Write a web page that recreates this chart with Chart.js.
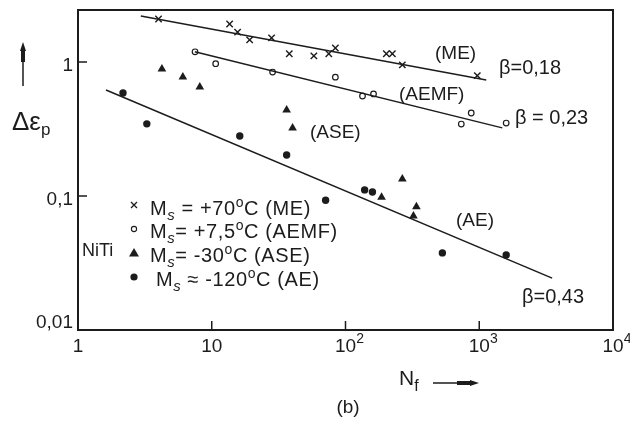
<!DOCTYPE html>
<html>
<head>
<meta charset="utf-8">
<script src="https://cdn.jsdelivr.net/npm/chart.js@4.4.1/dist/chart.umd.min.js"></script>
<style>
  html, body { margin: 0; padding: 0; background: #fff; }
  #wrap { width: 630px; height: 426px; position: relative; }
</style>
</head>
<body>
<div id="wrap"><canvas id="fatigue"></canvas></div>
<script>
// cycles to failure N_f and plastic strain amplitude (%) per alloy
const meN = [4.0, 13.6, 15.6, 19.2, 28, 38, 58, 75, 84, 202, 224, 266, 967]
const meEps = [2.09, 1.92, 1.67, 1.46, 1.51, 1.15, 1.11, 1.15, 1.27, 1.15, 1.15, 0.95, 0.79]

const aemfN = [7.5, 10.7, 28.5, 84, 134, 162, 734, 871, 1590]
const aemfEps = [1.19, 0.97, 0.84, 0.77, 0.557, 0.577, 0.344, 0.416, 0.35]

const aseN = [4.24, 6.08, 8.14, 36.3, 40.2, 186, 266, 322, 339]
const aseEps = [0.887, 0.773, 0.651, 0.438, 0.322, 0.098, 0.134, 0.071, 0.083]

const aeN = [2.17, 3.27, 16.2, 36.3, 71, 139, 159, 530, 1590]
const aeEps = [0.587, 0.345, 0.28, 0.202, 0.093, 0.111, 0.107, 0.0376, 0.0363]

// Coffin-Manson fits (end points)
const meFitN = [2.95, 1128]
const meFitEps = [2.2, 0.734]
const aemfFitN = [7.47, 1486]
const aemfFitEps = [1.19, 0.322]
const aeFitN = [1.62, 3508]
const aeFitEps = [0.618, 0.0244]

const betas = ['0,18', '0,23', '0,43']

const xTicks = [1, 10, 100, 1000, 10000]
const xTickLabels = [['1', ''], ['10', ''], ['10', '2'], ['10', '3'], ['10', '4']]
const yTicks = [1, 0.1, 0.01]
const yTickLabels = ['1', '0,1', '0,01']

const legendTemps = ['+70', '+7,5', '-30', '-120']
const legendTags = ['(ME)', '(AEMF)', '(ASE)', '(AE)']
const legendRel = [' = ', '= ', '= ', ' \u2248 ']


const FONT = '"Liberation Sans", Arial, sans-serif'
const INK = '#1c1c1c'

const pts = (xs, ys) => xs.map((x, i) => ({ x: x, y: ys[i] }))

function fontOf(size, italic) {
    return `${italic ? 'italic ' : ''}${size}px ${FONT}`
}

// text made of runs: [text, size, dy, italic]
function rich(ctx, x, y, parts, align) {
    let w = 0
    parts.forEach(p => {
        ctx.font = fontOf(p[1], p[3])
        w += ctx.measureText(p[0]).width
    })
    let cx = align === 'center' ? x - w / 2 : align === 'right' ? x - w : x
    ctx.textAlign = 'left'
    ctx.textBaseline = 'alphabetic'
    parts.forEach(p => {
        ctx.font = fontOf(p[1], p[3])
        ctx.fillText(p[0], cx, y + (p[2] || 0))
        cx += ctx.measureText(p[0]).width
    })
}

function marker(ctx, kind, x, y) {
    ctx.beginPath()
    if (kind === 'cross') {
        ctx.lineWidth = 1.3
        ctx.moveTo(x - 3, y - 3); ctx.lineTo(x + 3, y + 3)
        ctx.moveTo(x + 3, y - 3); ctx.lineTo(x - 3, y + 3)
        ctx.stroke()
    } else if (kind === 'ring') {
        ctx.lineWidth = 1.1
        ctx.arc(x, y, 2.6, 0, Math.PI * 2)
        ctx.stroke()
    } else if (kind === 'tri') {
        ctx.moveTo(x, y - 5); ctx.lineTo(x + 5, y + 3.5); ctx.lineTo(x - 5, y + 3.5)
        ctx.closePath()
        ctx.fill()
    } else {
        ctx.arc(x, y, 3.6, 0, Math.PI * 2)
        ctx.fill()
    }
}

const decorations = {
    id: 'decorations',
    afterDraw(chart) {
        const ctx = chart.ctx
        const a = chart.chartArea
        const sx = chart.scales.x
        const sy = chart.scales.y
        ctx.save()
        ctx.strokeStyle = INK
        ctx.fillStyle = INK

        // frame
        ctx.lineWidth = 2
        ctx.strokeRect(a.left, a.top, a.right - a.left, a.bottom - a.top)

        // inward ticks
        ctx.lineWidth = 1.5
        ctx.beginPath()
        xTicks.forEach(v => {
            const px = sx.getPixelForValue(v)
            ctx.moveTo(px, a.bottom); ctx.lineTo(px, a.bottom - 9)
        })
        yTicks.forEach(v => {
            const py = sy.getPixelForValue(v)
            ctx.moveTo(a.left, py); ctx.lineTo(a.left + 9, py)
        })
        ctx.stroke()

        // tick labels
        xTicks.forEach((v, i) => {
            const px = sx.getPixelForValue(v)
            const lab = xTickLabels[i]
            if (lab[1]) rich(ctx, px + 4, a.bottom + 22, [[lab[0], 19], [lab[1], 14, -9]], 'center')
            else rich(ctx, px, a.bottom + 22, [[lab[0], 19]], 'center')
        })
        yTicks.forEach((v, i) => {
            const py = sy.getPixelForValue(v)
            rich(ctx, a.left - 5, Math.min(py + 9, a.bottom - 2), [[yTickLabels[i], 19]], 'right')
        })

        // axis titles with arrows
        rich(ctx, 12, 130, [['\u0394\u03b5', 26], ['p', 17, 5]], 'left')
        ctx.lineWidth = 1.5
        ctx.beginPath()
        ctx.moveTo(23, 86); ctx.lineTo(23, 48)
        ctx.stroke()
        ctx.fillRect(21, 49, 4, 13)
        ctx.beginPath()
        ctx.moveTo(23, 42); ctx.lineTo(26, 51); ctx.lineTo(20, 51)
        ctx.closePath(); ctx.fill()

        rich(ctx, 399, 385, [['N', 21], ['f', 16, 6]], 'left')
        ctx.beginPath()
        ctx.moveTo(433, 383); ctx.lineTo(470, 383)
        ctx.stroke()
        ctx.fillRect(457, 381, 16, 4)
        ctx.beginPath()
        ctx.moveTo(479, 383); ctx.lineTo(470, 380); ctx.lineTo(470, 386)
        ctx.closePath(); ctx.fill()

        rich(ctx, 348, 413, [['(b)', 19]], 'center')

        // curve annotations
        rich(ctx, 435, 59, [['(ME)', 19]], 'left')
        rich(ctx, 499, 74, [['\u03b2=' + betas[0], 20]], 'left')
        rich(ctx, 399, 100, [['(AEMF)', 19]], 'left')
        rich(ctx, 515, 124, [['\u03b2 = ' + betas[1], 20]], 'left')
        rich(ctx, 310, 138, [['(ASE)', 19]], 'left')
        rich(ctx, 456, 226, [['(AE)', 19]], 'left')
        rich(ctx, 522, 303, [['\u03b2=' + betas[2], 20]], 'left')

        rich(ctx, 82, 256, [['NiTi', 18]], 'left')

        // legend
        const kinds = ['cross', 'ring', 'tri', 'dot']
        const rowY = [215, 238, 262, 286]
        const markY = [205, 229, 253, 277]
        ctx.letterSpacing = '0.6px'
        rowY.forEach((y, i) => {
            marker(ctx, kinds[i], 134, markY[i])
            rich(ctx, i === 3 ? 156 : 150, y, [
                ['M', 20], ['s', 15, 5, true], [legendRel[i] + legendTemps[i], 20],
                ['o', 14, -8], ['C ' + legendTags[i], 20]
            ], 'left')
        })
        ctx.letterSpacing = '0px'
        ctx.restore()
    }
}

const fitLine = (xs, ys) => ({
    data: pts(xs, ys),
    showLine: true,
    borderColor: INK,
    borderWidth: 1.5,
    pointRadius: 0
})

new Chart(document.getElementById('fatigue'), {
    type: 'scatter',
    data: {
        datasets: [
            fitLine(meFitN, meFitEps),
            fitLine(aemfFitN, aemfFitEps),
            fitLine(aeFitN, aeFitEps),
            {
                data: pts(meN, meEps),
                pointStyle: 'crossRot',
                pointRadius: 4.5,
                borderWidth: 1.4,
                borderColor: INK
            },
            {
                data: pts(aemfN, aemfEps),
                pointStyle: 'circle',
                pointRadius: 2.8,
                borderWidth: 1.2,
                borderColor: INK,
                backgroundColor: '#fff'
            },
            {
                data: pts(aseN, aseEps),
                pointStyle: 'triangle',
                pointRadius: 5,
                borderWidth: 0,
                backgroundColor: INK
            },
            {
                data: pts(aeN, aeEps),
                pointStyle: 'circle',
                pointRadius: 3.7,
                borderWidth: 0,
                backgroundColor: INK
            }
        ]
    },
    options: {
        responsive: true,
        maintainAspectRatio: false,
        animation: false,
        layout: { padding: { left: 78, top: 10, right: 17, bottom: 96 } },
        plugins: {
            legend: { display: false },
            tooltip: { enabled: false }
        },
        scales: {
            x: { type: 'logarithmic', min: 1, max: 10000, display: false },
            y: { type: 'logarithmic', min: 0.01, max: 2.44, display: false }
        }
    },
    plugins: [decorations]
})
</script>
</body>
</html>
